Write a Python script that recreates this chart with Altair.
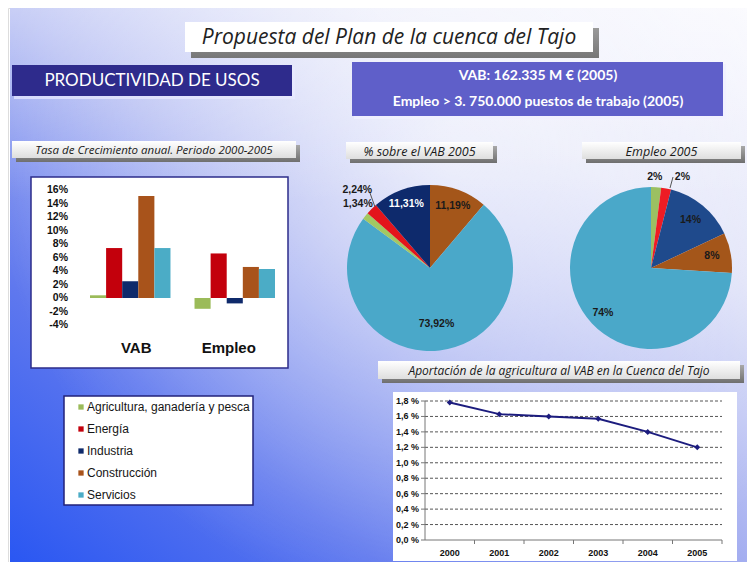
import math
import altair as alt
import pandas as pd

TAU = 2 * math.pi
OFF = 8  # page margin -> chart coords

# ---------------- data ----------------
sectors = ["Agricultura, ganadería y pesca", "Energía", "Industria", "Construcción", "Servicios"]
sector_colors = ["#9bbb59", "#c3000c", "#0f2a6b", "#a8531b", "#4bacc6"]

growth_groups = ["VAB", "Empleo"]
growth_vab = [0.4, 7.4, 2.5, 15.1, 7.4]
growth_empleo = [-1.6, 6.6, -0.8, 4.6, 4.3]
growth_ticks = [16, 14, 12, 10, 8, 6, 4, 2, 0, -2, -4]
growth_tick_labels = ["16%", "14%", "12%", "10%", "8%", "6%", "4%", "2%", "0%", "-2%", "-4%"]

vab_pie_sectors = ["Construcción", "Servicios", "Agricultura, ganadería y pesca", "Energía", "Industria"]
vab_pie_share = [11.19, 73.92, 1.34, 2.24, 11.31]
vab_pie_labels = ["11,19%", "73,92%", "1,34%", "2,24%", "11,31%"]
vab_pie_colors = ["#a4561a", "#4aa8c9", "#a3c862", "#e3141b", "#0e2a6c"]

empleo_pie_sectors = ["Agricultura, ganadería y pesca", "Energía", "Industria", "Construcción", "Servicios"]
empleo_pie_share = [2, 2, 14, 8, 74]
empleo_pie_labels = ["2%", "2%", "14%", "8%", "74%"]
empleo_pie_colors = ["#9bc062", "#ee1c24", "#1f4a8c", "#a4561a", "#4aa8c9"]

years = ["2000", "2001", "2002", "2003", "2004", "2005"]
agri_vab_share = [1.78, 1.63, 1.60, 1.57, 1.40, 1.20]
share_ticks = [0.0, 0.2, 0.4, 0.6, 0.8, 1.0, 1.2, 1.4, 1.6, 1.8]
share_tick_labels = ["0,0 %", "0,2 %", "0,4 %", "0,6 %", "0,8 %", "1,0 %", "1,2 %", "1,4 %", "1,6 %", "1,8 %"]

SANS = "Liberation Sans"
HEAD = "Lato"
ITAL = "Open Sans"

one = pd.DataFrame({"a": [0]})


def box(x0, y0, x1, y1, **kw):
    return alt.Chart(one).mark_rect(**kw).encode(
        x=alt.value(x0 - OFF), x2=alt.value(x1 - OFF),
        y=alt.value(y0 - OFF), y2=alt.value(y1 - OFF))


def label(txt, x, y, **kw):
    return alt.Chart(pd.DataFrame({"t": [txt]})).mark_text(**kw).encode(
        text="t:N", x=alt.value(x - OFF), y=alt.value(y - OFF))


def vgrad(c0, c1):
    return {"gradient": "linear", "x1": 0, "y1": 0, "x2": 0, "y2": 1,
            "stops": [{"offset": 0, "color": c0}, {"offset": 1, "color": c1}]}


def banner(x0, y0, x1, y1, txt, size, sh=4):
    return [
        box(x0 + sh, y0 + sh, x1, y1, fill=vgrad("#a8a8a8", "#6f6f6f")),
        box(x0, y0, x1 - sh, y1 - sh, fill=vgrad("#ffffff", "#dedede")),
        label(txt, (x0 + x1 - sh) / 2, (y0 + y1 - sh) / 2 + 1, font=ITAL, fontStyle="italic",
              fontSize=size, color="#1a1a1a", baseline="middle", align="center"),
    ]


layers = []

# ---------------- background ----------------
layers.append(box(10, 8, 747, 562, fill={
    "gradient": "linear", "x1": 0, "y1": 1, "x2": 1, "y2": 0,
    "stops": [{"offset": 0, "color": "#2a57f2"}, {"offset": 0.25, "color": "#5f78ee"},
              {"offset": 0.5, "color": "#a4aef0"}, {"offset": 0.75, "color": "#dde0f8"},
              {"offset": 1, "color": "#f6f6fe"}]}))
layers.append(box(10, 8, 747, 562, fill={
    "gradient": "radial", "x1": 0.6, "y1": 0.32, "r1": 0, "x2": 0.6, "y2": 0.32, "r2": 0.62,
    "stops": [{"offset": 0, "color": "rgba(255,255,255,0.65)"},
              {"offset": 1, "color": "rgba(255,255,255,0)"}]}))
layers.append(box(10, 8, 747, 562, fill={
    "gradient": "linear", "x1": 0, "y1": 0, "x2": 0, "y2": 1,
    "stops": [{"offset": 0, "color": "rgba(255,255,255,0.4)"},
              {"offset": 0.35, "color": "rgba(255,255,255,0)"}]}))

# ---------------- headers ----------------
layers += [
    box(191, 28, 599, 58, fill=vgrad("#9a9a9a", "#777777")),
    box(185, 22, 593, 52, fill="#ffffff"),
    label("Propuesta del Plan de la cuenca del Tajo", 389, 38, font=ITAL, fontStyle="italic",
          fontSize=21, color="#222222", baseline="middle"),
    box(14, 67, 295, 99, fill="#e8eaff", opacity=0.7),
    box(12, 65, 292, 96, fill="#2e2b8c"),
    label("PRODUCTIVIDAD DE USOS", 152, 81, font=HEAD, fontSize=17, color="#ffffff", baseline="middle"),
    box(354, 64, 726, 119, fill="#f0f0ff", opacity=0.8),
    box(352, 62, 723, 116, fill="#5f5fc9"),
    label("VAB: 162.335 M €  (2005)", 538, 76, font=HEAD, fontSize=14, fontWeight="bold",
          color="#ffffff", baseline="middle"),
    label("Empleo > 3. 750.000 puestos de trabajo (2005)", 538, 102, font=HEAD, fontSize=14,
          fontWeight="bold", color="#ffffff", baseline="middle"),
]

# ---------------- bar chart ----------------
layers += banner(12, 141, 300, 162, "Tasa de Crecimiento anual. Periodo 2000-2005", 11.5)
layers.append(box(31, 177, 288, 368, fill="#ffffff", stroke="#2d2d8a", strokeWidth=1.5))

bar_df = pd.DataFrame({
    "group": ["VAB"] * 5 + ["Empleo"] * 5,
    "sector": sectors * 2,
    "value": growth_vab + growth_empleo,
})
x_bar = alt.Scale(domain=growth_groups, range=[90 - OFF, 275 - OFF], paddingInner=0.23, paddingOuter=0)
y_bar = alt.Scale(domain=[-4, 16], range=[325 - OFF, 190 - OFF], nice=False, zero=False)
c_sec = alt.Scale(domain=sectors, range=sector_colors)

layers.append(alt.Chart(bar_df).mark_bar().encode(
    x=alt.X("group:N", scale=x_bar, axis=None),
    xOffset=alt.XOffset("sector:N", scale=alt.Scale(domain=sectors, paddingInner=0, paddingOuter=0)),
    y=alt.Y("value:Q", scale=y_bar, axis=None),
    color=alt.Color("sector:N", scale=c_sec, legend=None),
))
layers.append(alt.Chart(pd.DataFrame({"v": growth_ticks, "t": growth_tick_labels})).mark_text(
    align="right", baseline="middle", font=SANS, fontSize=10.5, fontWeight="bold", color="#111111"
).encode(x=alt.value(68 - OFF), y=alt.Y("v:Q", scale=y_bar, axis=None), text="t:N"))
layers.append(alt.Chart(pd.DataFrame({"g": growth_groups})).mark_text(
    baseline="middle", font=SANS, fontSize=15, fontWeight="bold", color="#111111"
).encode(x=alt.X("g:N", scale=x_bar, axis=None, bandPosition=0.5), y=alt.value(348 - OFF), text="g:N"))

# ---------------- legend ----------------
layers.append(box(64, 396, 253, 505, fill="#ffffff", stroke="#22227a", strokeWidth=1.5))
y_leg = alt.Scale(type="point", domain=sectors, range=[407 - OFF, 495 - OFF], padding=0)
leg_df = pd.DataFrame({"sector": sectors})
layers.append(alt.Chart(leg_df).mark_square(size=28, opacity=1).encode(
    x=alt.value(81 - OFF), y=alt.Y("sector:N", scale=y_leg, axis=None),
    color=alt.Color("sector:N", scale=c_sec, legend=None)))
layers.append(alt.Chart(leg_df).mark_text(align="left", baseline="middle", font=SANS, fontSize=12,
                                          color="#151515").encode(
    x=alt.value(87 - OFF), y=alt.Y("sector:N", scale=y_leg, axis=None), text="sector:N"))

# ---------------- pies ----------------
layers += banner(346, 142, 497, 163, "% sobre el VAB 2005", 12.5)
layers += banner(582, 142, 745, 163, "Empleo 2005", 12.5)


def pie(sect, share, labels, colors, cx, cy, r, label_specs):
    df = pd.DataFrame({"sector": sect, "value": share, "label": labels, "idx": list(range(len(sect)))})
    total = sum(share)
    out = [alt.Chart(df).mark_arc(outerRadius=r).encode(
        theta=alt.Theta("value:Q", stack=True),
        order=alt.Order("idx:Q"),
        color=alt.Color("sector:N", scale=alt.Scale(domain=sect, range=colors), legend=None),
        x=alt.value(cx - OFF), y=alt.value(cy - OFF))]
    for cond, rad, col, dx, dy in label_specs:
        out.append(alt.Chart(df).transform_window(
            cum="sum(value)", sort=[alt.SortField("idx")], frame=[None, 0]
        ).transform_calculate(mid="datum.cum - datum.value / 2").transform_filter(cond).mark_text(
            radius=rad, font=SANS, fontSize=10.5, fontWeight="bold", baseline="middle", dx=dx, dy=dy
        ).encode(
            theta=alt.Theta("mid:Q", stack=None, scale=alt.Scale(domain=[0, total], range=[0, TAU])),
            text="label:N", color=alt.value(col),
            x=alt.value(cx - OFF), y=alt.value(cy - OFF)))
    return out


AGRI = "datum.sector == 'Agricultura, ganadería y pesca'"
ENER = "datum.sector == 'Energía'"

layers += pie(vab_pie_sectors, vab_pie_share, vab_pie_labels, vab_pie_colors, 430, 268, 83, [
    ("datum.value > 50", 56, "#1a1a1a", 0, 0),
    ("datum.value > 5 && datum.value < 50 && datum.sector != 'Industria'", 66, "#1a1a1a", 0, 0),
    ("datum.sector == 'Industria'", 68, "#ffffff", 0, 0),
    (AGRI, 99, "#1a1a1a", 5, -2),
    (ENER, 99, "#1a1a1a", -3, -8),
])
# leader line from the 2,24% label to its slice
layers.append(alt.Chart(pd.DataFrame({"a": [0, 1]})).mark_line(color="#555555", strokeWidth=1).encode(
    x=alt.X("a:Q", scale=alt.Scale(domain=[0, 1], range=[370 - OFF, 375 - OFF]), axis=None),
    y=alt.Y("a:Q", scale=alt.Scale(domain=[0, 1], range=[193 - OFF, 207 - OFF]), axis=None)))

layers += pie(empleo_pie_sectors, empleo_pie_share, empleo_pie_labels, empleo_pie_colors, 651, 268, 81, [
    ("datum.value > 50", 66, "#1a1a1a", 0, 0),
    ("datum.value > 5 && datum.value < 50", 62, "#1a1a1a", 0, 0),
    (AGRI, 93, "#1a1a1a", -2, 2),
    (ENER, 93, "#1a1a1a", 14, 0),
])
layers.append(alt.Chart(pd.DataFrame({"a": [0, 1]})).mark_line(color="#555555", strokeWidth=1).encode(
    x=alt.X("a:Q", scale=alt.Scale(domain=[0, 1], range=[673 - OFF, 670 - OFF]), axis=None),
    y=alt.Y("a:Q", scale=alt.Scale(domain=[0, 1], range=[177 - OFF, 188 - OFF]), axis=None)))

# ---------------- line chart ----------------
layers += banner(378, 361, 744, 383, "Aportación de la agricultura al VAB en la Cuenca del Tajo", 12)
layers.append(box(393, 392, 737, 561, fill="#ffffff"))

x_line = alt.Scale(type="band", domain=years, range=[425 - OFF, 722 - OFF], paddingInner=0, paddingOuter=0)
y_line = alt.Scale(domain=[0, 1.8], range=[540 - OFF, 401 - OFF], nice=False, zero=False)
tick_df = pd.DataFrame({"v": share_ticks, "t": share_tick_labels})

layers.append(alt.Chart(tick_df[tick_df.v > 0]).mark_rule(
    color="#555555", strokeDash=[3, 2], strokeWidth=1).encode(
    x=alt.value(425 - OFF), x2=alt.value(722 - OFF), y=alt.Y("v:Q", scale=y_line, axis=None)))
layers.append(alt.Chart(tick_df).mark_rule(color="#777777", strokeWidth=1).encode(
    x=alt.value(421 - OFF), x2=alt.value(425 - OFF), y=alt.Y("v:Q", scale=y_line, axis=None)))
layers.append(alt.Chart(one).mark_rule(color="#777777", strokeWidth=1).encode(
    x=alt.value(425 - OFF), y=alt.value(401 - OFF), y2=alt.value(540 - OFF)))
layers.append(alt.Chart(one).mark_rule(color="#777777", strokeWidth=1).encode(
    x=alt.value(425 - OFF), x2=alt.value(722 - OFF), y=alt.value(540 - OFF)))
year_df = pd.DataFrame({"year": years})
layers.append(alt.Chart(year_df).mark_rule(color="#777777", strokeWidth=1).encode(
    x=alt.X("year:N", scale=x_line, axis=None, bandPosition=1),
    y=alt.value(540 - OFF), y2=alt.value(544 - OFF)))
layers.append(alt.Chart(tick_df).mark_text(
    align="right", baseline="middle", font=SANS, fontSize=9, fontWeight="bold", color="#111111"
).encode(x=alt.value(419 - OFF), y=alt.Y("v:Q", scale=y_line, axis=None), text="t:N"))
layers.append(alt.Chart(year_df).mark_text(
    baseline="middle", font=SANS, fontSize=9, fontWeight="bold", color="#111111"
).encode(x=alt.X("year:N", scale=x_line, axis=None, bandPosition=0.5), y=alt.value(553 - OFF),
         text="year:N"))

line_df = pd.DataFrame({"year": years, "share": agri_vab_share})
layers.append(alt.Chart(line_df).mark_line(
    color="#1c1c7e", strokeWidth=2,
    point=alt.OverlayMarkDef(shape="diamond", size=36, filled=True, color="#1c1c7e")
).encode(x=alt.X("year:N", scale=x_line, axis=None, bandPosition=0.5),
         y=alt.Y("share:Q", scale=y_line, axis=None)))

chart = alt.layer(*layers).resolve_scale(
    x="independent", y="independent", color="independent", theta="independent", xOffset="independent"
).properties(
    width=739, height=554, padding=0, autosize=alt.AutoSizeParams(type="none")
).configure_view(stroke=None).configure(background="#ffffff")

chart.save("out.html", embed_options={"renderer": "svg", "actions": False})
